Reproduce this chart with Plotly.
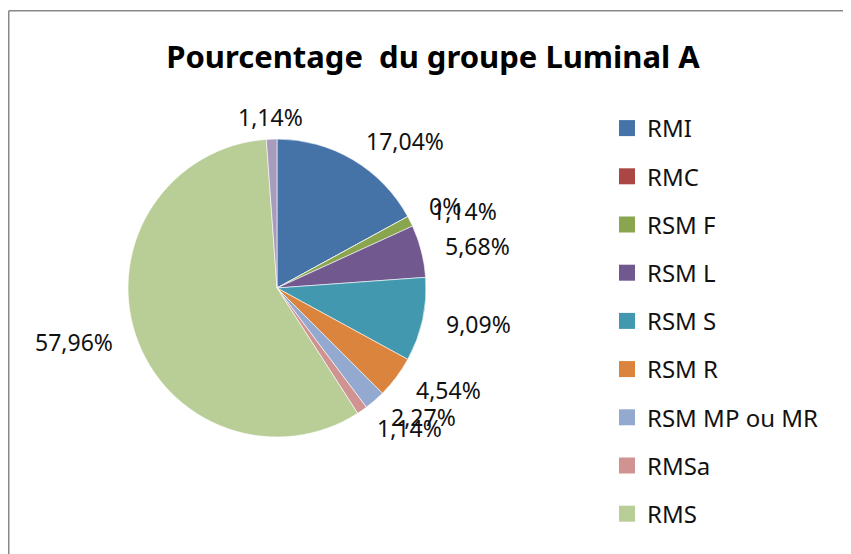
import math
import plotly.graph_objects as go

# Data
categories = ["RMI", "RMC", "RSM F", "RSM L", "RSM S", "RSM R", "RSM MP ou MR", "RMSa", "RMS", "autre"]
values = [17.04, 0, 1.14, 5.68, 9.09, 4.54, 2.27, 1.14, 57.96, 1.14]
colors = ["#4572A7", "#AA4643", "#89A54E", "#71588F", "#4198AF",
          "#DB843D", "#93A9CF", "#D19392", "#B9CD96", "#A99BBD"]
legend_count = 9  # the last slice has no legend entry in the original

# Figure size (page has an 8px body margin)
W, H = 843, 546
FONT = "Noto Sans"

# Pie geometry (pixels in figure coordinates)
CX, CY, R = 269, 280, 149
LABEL_R = R + 22


def fmt(v):
    if v == 0:
        return "0%"
    return f"{v:.2f}".replace(".", ",") + "%"


fig = go.Figure()

fig.add_trace(go.Pie(
    labels=categories,
    values=values,
    textinfo="none",
    sort=False,
    direction="clockwise",
    rotation=0,
    marker=dict(colors=colors, line=dict(color="white", width=0.6)),
    showlegend=False,
    hovertext=[fmt(v) for v in values],
    hoverinfo="label+text",
    domain=dict(x=[(CX - R) / W, (CX + R) / W], y=[1 - (CY + R) / H, 1 - (CY - R) / H]),
))

# Data labels placed outside each slice, at the slice's mid angle (Excel "outside end")
annotations = []
total = sum(values)
cum = 0.0
for v in values:
    mid = (cum + v / 2) / total * 2 * math.pi
    cum += v
    s, c = math.sin(mid), math.cos(mid)
    px = CX + LABEL_R * s
    py = CY - LABEL_R * c
    xa = "left" if s > 0.25 else ("right" if s < -0.25 else "center")
    annotations.append(dict(
        x=px / W, y=1 - py / H, xref="paper", yref="paper",
        text=fmt(v), showarrow=False, xanchor=xa, yanchor="middle",
        font=dict(family=FONT, size=23, color="#111111"),
    ))

# legend entries (only the first 9 categories appear)
for i in range(legend_count):
    fig.add_trace(go.Scatter(
        x=[None], y=[None], mode="markers", name=categories[i],
        legendgroup=f"g{i}",
        marker=dict(symbol="square", size=16, color=colors[i]),
        showlegend=True,
    ))

fig.update_layout(
    width=W, height=H,
    margin=dict(l=0, r=0, t=0, b=0),
    paper_bgcolor="white", plot_bgcolor="white",
    title=dict(text="<b>Pourcentage\u00a0 du groupe Luminal A</b>",
               x=425 / W, xanchor="center", y=1 - 49 / H, yanchor="middle",
               font=dict(family=FONT, size=31, color="#000000")),
    legend=dict(x=599 / W, xanchor="left", y=1 - 98 / H, yanchor="top",
                font=dict(family=FONT, size=24, color="#111111"),
                tracegroupgap=14, itemsizing="trace", bgcolor="rgba(0,0,0,0)"),
    xaxis=dict(visible=False, range=[0, 1], fixedrange=True),
    yaxis=dict(visible=False, range=[0, 1], fixedrange=True),
    annotations=annotations,
    shapes=[
        dict(type="line", xref="paper", yref="paper", x0=0.75 / W, x1=0.75 / W,
             y0=1 - 2.8 / H, y1=0, line=dict(color="#888888", width=1.5)),
        dict(type="line", xref="paper", yref="paper", x0=0.75 / W, x1=1,
             y0=1 - 2.8 / H, y1=1 - 2.8 / H, line=dict(color="#888888", width=1.5)),
    ],
)

fig.write_html("out.html")
